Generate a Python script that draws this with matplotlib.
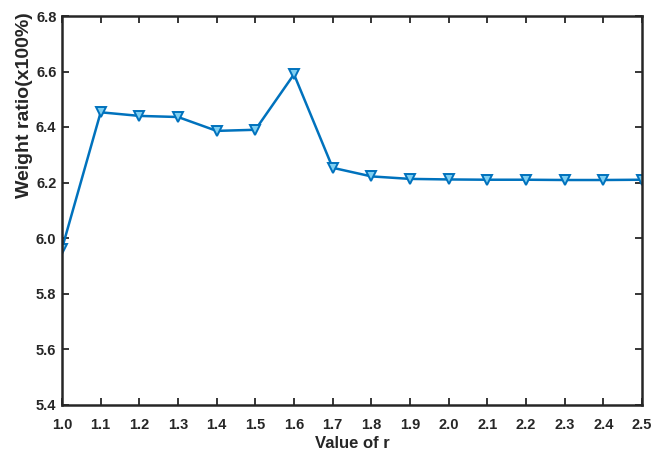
import numpy as np
import matplotlib.pyplot as plt

plt.rcParams['font.family'] = ['Liberation Sans', 'DejaVu Sans']
plt.rcParams['font.weight'] = 'bold'

r_values = [1.0, 1.1, 1.2, 1.3, 1.4, 1.5, 1.6, 1.7, 1.8, 1.9,
            2.0, 2.1, 2.2, 2.3, 2.4, 2.5]
weight_ratio = [5.962, 6.453, 6.440, 6.436, 6.386, 6.390, 6.590, 6.253,
                6.222, 6.213, 6.211, 6.210, 6.210, 6.209, 6.209, 6.210]

xticks = np.round(np.arange(1.0, 2.51, 0.1), 1)
yticks = np.round(np.arange(5.4, 6.81, 0.2), 1)

fig = plt.figure(figsize=(6.67, 4.57), dpi=100)
ax = fig.add_axes([62 / 667, 52.5 / 457, 580 / 667, 388.5 / 457])

ax.plot(r_values, weight_ratio, color='#0072bd', lw=1.8,
        marker='v', ms=7.5, mfc='#7fd0f2', mec='#0072bd', mew=1.4)

ax.set_xlim(1.0, 2.5)
ax.set_ylim(5.4, 6.8)
ax.set_xticks(xticks)
ax.set_xticklabels(['%.1f' % v for v in xticks])
ax.set_yticks(yticks)
ax.set_yticklabels(['%.1f' % v for v in yticks])

for s in ax.spines.values():
    s.set_linewidth(1.8)
    s.set_color('#262626')
ax.tick_params(direction='in', top=True, right=True, length=5, width=1.3,
               labelsize=10.5, colors='#262626')
ax.tick_params(axis='x', pad=9.5)
ax.tick_params(axis='y', pad=4)
for lab in ax.get_xticklabels() + ax.get_yticklabels():
    lab.set_fontweight('bold')

fig.text(352 / 667, 1 - 443 / 457, 'Value of r', fontsize=12,
         fontweight='bold', color='#262626', ha='center', va='center')
fig.text(24.5 / 667, 1 - 105 / 457, 'Weight ratio(x100%)', fontsize=14,
         fontweight='bold', color='#262626', ha='center', va='center',
         rotation=90)

fig.savefig('out.png', dpi=100)
